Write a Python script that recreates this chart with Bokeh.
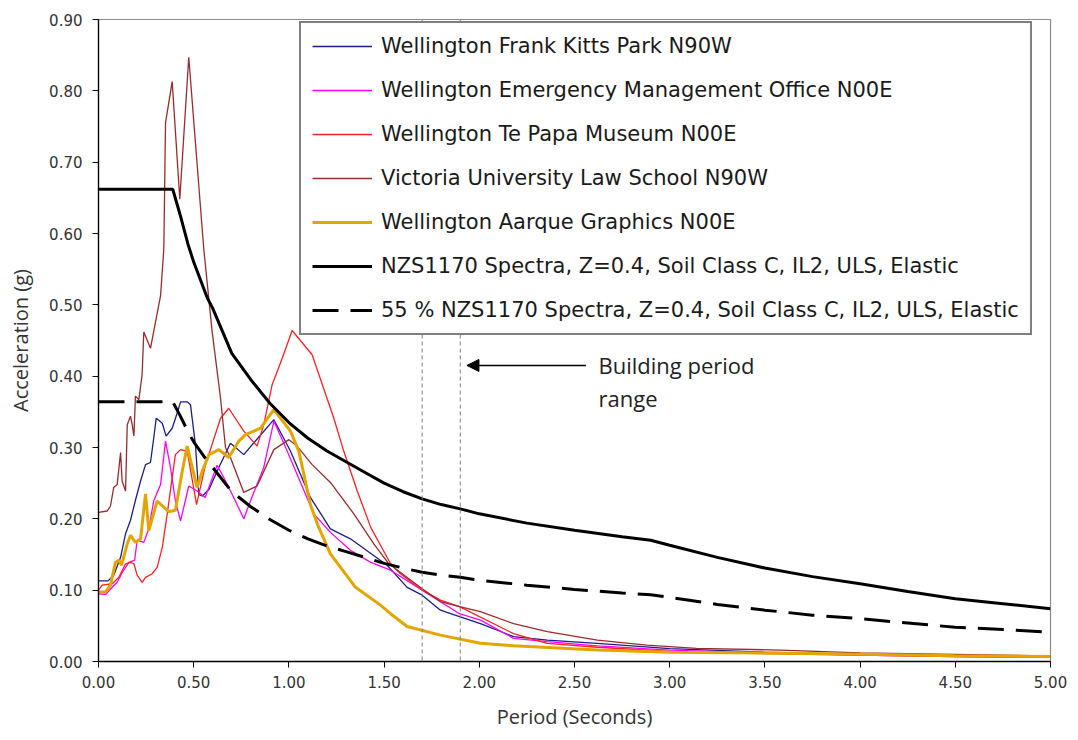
from bokeh.plotting import figure
from bokeh.models import (Legend, LegendItem, FixedTicker, NumeralTickFormatter, Span,
                          Arrow, NormalHead, Label, Range1d)
from bokeh.embed import file_html
from bokeh.resources import INLINE

# ---------------- data ----------------
X_TICKS = [0.0, 0.5, 1.0, 1.5, 2.0, 2.5, 3.0, 3.5, 4.0, 4.5, 5.0]
Y_TICKS = [0.0, 0.1, 0.2, 0.3, 0.4, 0.5, 0.6, 0.7, 0.8, 0.9]

fk_x = [0.0, 0.05, 0.08, 0.116, 0.142, 0.168, 0.194, 0.221, 0.247, 0.273, 0.29, 0.303, 0.335,
        0.355, 0.387, 0.413, 0.431, 0.466, 0.483, 0.509, 0.527, 0.545, 0.58, 0.632, 0.693, 0.72,
        0.763, 0.84, 0.921, 1.008, 1.061, 1.113, 1.218, 1.323, 1.516, 1.621, 1.70, 1.796, 1.896,
        2.006, 2.18, 2.357, 2.62, 3.0, 3.5, 4.0, 4.5, 5.0]
fk_y = [0.113, 0.113, 0.121, 0.146, 0.179, 0.198, 0.226, 0.253, 0.276, 0.279, 0.313, 0.341, 0.334,
        0.316, 0.327, 0.348, 0.364, 0.364, 0.36, 0.304, 0.234, 0.232, 0.241, 0.272, 0.306, 0.30,
        0.29, 0.314, 0.339, 0.295, 0.262, 0.23, 0.186, 0.172, 0.135, 0.104, 0.093, 0.072, 0.063,
        0.053, 0.035, 0.03, 0.0255, 0.018, 0.013, 0.010, 0.008, 0.007]

emo_x = [0.0, 0.037, 0.072, 0.098, 0.125, 0.159, 0.19, 0.203, 0.238, 0.264, 0.29, 0.326, 0.352,
         0.378, 0.404, 0.431, 0.474, 0.518, 0.56, 0.623, 0.658, 0.71, 0.763, 0.798, 0.868, 0.921,
         0.991, 1.131, 1.218, 1.323, 1.43, 1.534, 1.70, 1.896, 2.006, 2.18, 2.357, 2.62, 3.0,
         3.5, 4.0, 4.5, 5.0]
emo_y = [0.095, 0.094, 0.104, 0.111, 0.125, 0.139, 0.142, 0.170, 0.167, 0.186, 0.225, 0.248, 0.309,
         0.272, 0.225, 0.197, 0.246, 0.239, 0.23, 0.275, 0.258, 0.23, 0.20, 0.225, 0.272, 0.337,
         0.295, 0.207, 0.181, 0.156, 0.139, 0.128, 0.10, 0.067, 0.058, 0.0325, 0.028, 0.022, 0.016,
         0.012, 0.009, 0.007, 0.006]

tp_x = [0.0, 0.019, 0.072, 0.107, 0.142, 0.168, 0.186, 0.203, 0.229, 0.247, 0.282, 0.308, 0.335,
        0.361, 0.387, 0.404, 0.431, 0.466, 0.515, 0.562, 0.641, 0.684, 0.763, 0.833, 0.868, 0.912,
        0.965, 1.017, 1.122, 1.236, 1.288, 1.359, 1.43, 1.481, 1.534, 1.586, 1.70, 1.796, 1.896,
        2.18, 2.357, 2.62, 3.0, 3.5, 4.0, 4.5, 5.0]
tp_y = [0.10, 0.107, 0.109, 0.118, 0.137, 0.139, 0.137, 0.121, 0.111, 0.118, 0.123, 0.132, 0.160,
        0.207, 0.258, 0.29, 0.297, 0.295, 0.22, 0.276, 0.341, 0.355, 0.323, 0.302, 0.332, 0.388,
        0.425, 0.464, 0.43, 0.341, 0.295, 0.239, 0.188, 0.163, 0.137, 0.123, 0.10, 0.086, 0.077,
        0.039, 0.0255, 0.02, 0.014, 0.011, 0.009, 0.007, 0.006]

law_x = [0.0, 0.046, 0.063, 0.08, 0.098, 0.116, 0.124, 0.142, 0.151, 0.168, 0.177, 0.186, 0.194,
         0.212, 0.229, 0.238, 0.273, 0.326, 0.343, 0.352, 0.387, 0.427, 0.474, 0.553, 0.597, 0.641,
         0.667, 0.693, 0.763, 0.833, 0.921, 1.0, 1.043, 1.122, 1.218, 1.341, 1.446, 1.525, 1.70,
         1.796, 1.896, 2.006, 2.18, 2.357, 2.62, 2.88, 3.14, 3.58, 4.0, 4.5, 5.0]
law_y = [0.209, 0.211, 0.218, 0.244, 0.248, 0.293, 0.253, 0.239, 0.332, 0.344, 0.332, 0.316, 0.372,
         0.367, 0.402, 0.462, 0.439, 0.513, 0.578, 0.755, 0.813, 0.648, 0.847, 0.578, 0.462, 0.369,
         0.30, 0.286, 0.237, 0.246, 0.297, 0.311, 0.302, 0.276, 0.251, 0.207, 0.165, 0.137, 0.102,
         0.084, 0.077, 0.07, 0.053, 0.042, 0.030, 0.023, 0.0185, 0.016, 0.012, 0.010, 0.008]

aq_x = [0.0, 0.037, 0.063, 0.089, 0.107, 0.121, 0.151, 0.168, 0.194, 0.221, 0.247, 0.264, 0.308,
        0.369, 0.404, 0.44, 0.466, 0.492, 0.518, 0.545, 0.58, 0.632, 0.684, 0.737, 0.772, 0.851,
        0.921, 1.008, 1.052, 1.113, 1.149, 1.218, 1.35, 1.481, 1.534, 1.621, 1.796, 2.006, 2.18,
        2.62, 3.0, 3.58, 4.0, 4.5, 5.0]
aq_y = [0.0975, 0.0975, 0.107, 0.139, 0.142, 0.135, 0.165, 0.177, 0.167, 0.172, 0.235, 0.183, 0.225,
        0.21, 0.212, 0.267, 0.302, 0.272, 0.244, 0.267, 0.29, 0.297, 0.286, 0.309, 0.318, 0.327,
        0.353, 0.323, 0.295, 0.22, 0.193, 0.151, 0.104, 0.079, 0.067, 0.049, 0.037, 0.0255, 0.022,
        0.016, 0.013, 0.0116, 0.010, 0.008, 0.007]

nzs_x = [0.0, 0.39, 0.43, 0.47, 0.5, 0.571, 0.6, 0.7, 0.8, 0.9, 1.0, 1.1, 1.2, 1.3, 1.4, 1.5, 1.6,
         1.7, 1.8, 1.9, 2.0, 2.25, 2.5, 2.75, 2.9, 3.0, 3.25, 3.5, 3.75, 4.0, 4.25, 4.5, 4.75, 5.0]
nzs_y = [0.662, 0.662, 0.625, 0.585, 0.56, 0.51, 0.495, 0.432, 0.395, 0.362, 0.335, 0.313, 0.295,
         0.28, 0.265, 0.25, 0.238, 0.228, 0.22, 0.214, 0.207, 0.194, 0.184, 0.175, 0.170, 0.163,
         0.146, 0.131, 0.119, 0.109, 0.098, 0.088, 0.081, 0.074]
nzs55_y = [0.364, 0.364, 0.344, 0.322, 0.308, 0.281, 0.272, 0.238, 0.217, 0.199, 0.184, 0.172, 0.162,
           0.154, 0.146, 0.1375, 0.131, 0.125, 0.121, 0.118, 0.114, 0.107, 0.101, 0.096, 0.0935,
           0.090, 0.080, 0.072, 0.065, 0.060, 0.054, 0.048, 0.045, 0.041]

BUILDING_PERIODS = [1.7, 1.9]

# ---------------- figure ----------------
p = figure(width=1070, height=732, x_range=Range1d(0, 5), y_range=Range1d(0, 0.9),
           output_backend="svg", toolbar_location=None,
           min_border_left=98, min_border_right=20, min_border_top=19, min_border_bottom=67)
p.xgrid.visible = False
p.ygrid.visible = False
p.outline_line_color = "#8c8c8c"
p.outline_line_width = 1.2
p.background_fill_color = "white"
p.border_fill_color = "white"

for ax in (p.xaxis[0], p.yaxis[0]):
    ax.axis_line_color = "black"
    ax.axis_line_width = 1.3
    ax.major_tick_line_color = "black"
    ax.major_tick_out = 6
    ax.major_tick_in = 0
    ax.minor_tick_line_color = None
    ax.major_label_text_font = "DejaVu Sans"
    ax.major_label_text_font_size = "15px"
    ax.major_label_text_color = "#333333"
    ax.axis_label_text_font = "Open Sans"
    ax.axis_label_text_font_size = "20px"
    ax.axis_label_text_font_style = "normal"
    ax.axis_label_text_color = "#333333"
    ax.formatter = NumeralTickFormatter(format="0.00")

p.xaxis.ticker = FixedTicker(ticks=X_TICKS)
p.yaxis.ticker = FixedTicker(ticks=Y_TICKS)
p.xaxis.axis_label = "Period (Seconds)"
p.yaxis.axis_label = "Acceleration (g)"
p.xaxis.major_label_standoff = 8
p.yaxis.major_label_standoff = 10
p.xaxis.axis_label_standoff = 12
p.yaxis.axis_label_standoff = 12

# building period reference lines
for bp in BUILDING_PERIODS:
    p.add_layout(Span(location=bp, dimension="height", line_color="#7f7f7f",
                      line_width=1, line_dash="4 3"))

r_fk = p.line(fk_x, fk_y, line_color="#1c1c8c", line_width=1.3)
r_emo = p.line(emo_x, emo_y, line_color="#ff00ff", line_width=1.3)
r_tp = p.line(tp_x, tp_y, line_color="#ff2020", line_width=1.3)
r_law = p.line(law_x, law_y, line_color="#9b2a2a", line_width=1.3)
r_aq = p.line(aq_x, aq_y, line_color="#e3a600", line_width=3)
r_nzs = p.line(nzs_x, nzs_y, line_color="black", line_width=3)
r_55 = p.line(nzs_x, nzs55_y, line_color="black", line_width=3, line_dash="26 12")

# annotation
p.add_layout(Arrow(end=NormalHead(size=12, fill_color="black", line_color="black"),
                   x_start=2.56, y_start=0.415, x_end=1.935, y_end=0.415,
                   line_color="black", line_width=1.5))
p.add_layout(Label(x=2.626, y=0.415, text="Building period", text_baseline="middle",
                   text_font="Open Sans", text_font_size="22px", text_color="#222222"))
p.add_layout(Label(x=2.626, y=0.369, text="range", text_baseline="middle",
                   text_font="Open Sans", text_font_size="22px", text_color="#222222"))

legend = Legend(items=[
    LegendItem(label="Wellington Frank Kitts Park N90W", renderers=[r_fk]),
    LegendItem(label="Wellington Emergency Management Office N00E", renderers=[r_emo]),
    LegendItem(label="Wellington Te Papa Museum N00E", renderers=[r_tp]),
    LegendItem(label="Victoria University Law School N90W", renderers=[r_law]),
    LegendItem(label="Wellington Aarque Graphics N00E", renderers=[r_aq]),
    LegendItem(label="NZS1170 Spectra, Z=0.4, Soil Class C, IL2, ULS, Elastic", renderers=[r_nzs]),
    LegendItem(label="55 % NZS1170 Spectra, Z=0.4, Soil Class C, IL2, ULS, Elastic", renderers=[r_55]),
], location=(201, 326))
legend.label_text_font = "DejaVu Sans"
legend.label_text_font_size = "21px"
legend.label_text_color = "#1a1a1a"
legend.glyph_width = 60
legend.glyph_height = 22
legend.label_height = 22
legend.label_standoff = 9
legend.spacing = 20
legend.padding = 11
legend.margin = 0
legend.border_line_color = "black"
legend.border_line_width = 2
legend.background_fill_color = "white"
legend.background_fill_alpha = 1.0
p.add_layout(legend, "center")

open("out.html", "w").write(file_html(p, INLINE))
